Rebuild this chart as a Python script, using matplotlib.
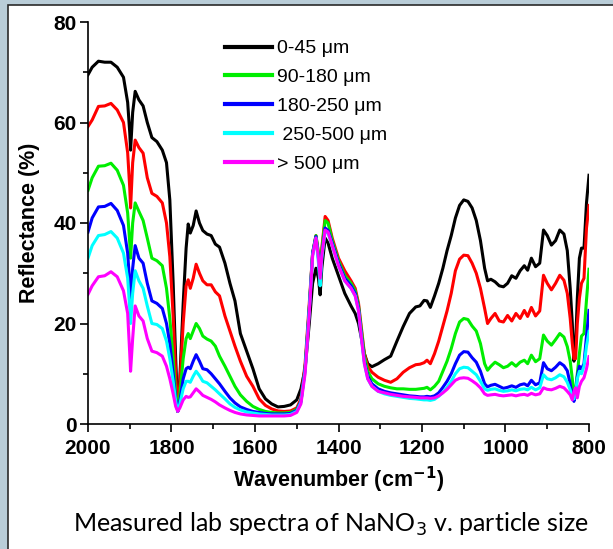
import matplotlib
matplotlib.use("Agg")
import matplotlib.pyplot as plt
from matplotlib.patches import Rectangle
from matplotlib.ticker import MultipleLocator

wavenumber = [2000, 1990, 1975, 1960, 1945, 1930, 1915, 1905, 1900, 1898, 1893, 1887, 1878, 1868, 1858,
              1847, 1835, 1822, 1812, 1804, 1796, 1790, 1785, 1780, 1772, 1765, 1760, 1755, 1748, 1741,
              1733, 1725, 1715, 1705, 1695, 1685, 1672, 1660, 1648, 1635, 1620, 1605, 1590, 1575, 1560,
              1545, 1530, 1515, 1500, 1490, 1480, 1470, 1462, 1454, 1448, 1444, 1440, 1432, 1425, 1415,
              1400, 1385, 1370, 1360, 1352, 1345, 1338, 1330, 1320, 1305, 1290, 1275, 1260, 1245, 1230,
              1215, 1205, 1195, 1188, 1180, 1170, 1160, 1150, 1140, 1130, 1120, 1110, 1100, 1090, 1080,
              1070, 1060, 1050, 1043, 1035, 1025, 1015, 1005, 995, 985, 975, 965, 955, 947, 938,
              928, 918, 909, 900, 890, 880, 870, 860, 852, 845, 840, 836, 832, 828, 823,
              818, 812, 806, 800]

r_0_45 = [69.5, 71, 72.2, 72.0, 72.0, 71, 69, 64, 58, 54.5, 62, 66.2, 64.5, 63.3, 60,
          57, 56.2, 54.5, 52, 44.6, 28, 13, 2.5, 9, 24, 35, 39.8, 38, 39.5, 42.4,
          40, 38.5, 37.8, 37.5, 35.8, 35.2, 32, 28, 24.5, 18, 14.5, 11, 7, 5, 4,
          3.4, 3.5, 3.8, 4.8, 7, 11, 20, 28, 31, 29, 25.7, 31, 37, 36, 33,
          29.5, 26, 23.5, 22, 20, 17, 14, 12, 11.4, 12, 12.8, 13.5, 16.5, 19.4, 22,
          23.3, 23.5, 24.6, 24.5, 23.2, 25.5, 28, 31, 34.5, 37.5, 41, 43.5, 44.6, 44.3, 43,
          40.5, 36.5, 31, 28.5, 28.8, 28.3, 27.5, 27.3, 28, 29.5, 29, 30.5, 31.5, 30.6, 33,
          31.3, 32, 38.6, 37.5, 35.6, 36.5, 38.6, 37.8, 34.5, 27, 20, 12.5, 16, 25, 33,
          35, 35, 44, 49.5]

r_45_90 = [59.2, 60.5, 63.2, 63.3, 63.8, 62.5, 60, 54, 47, 43, 52, 56.5, 55, 53.9, 49,
           45.9, 45.3, 44, 40, 33.3, 21.4, 10, 2.5, 8, 20, 27.5, 28.7, 27, 29, 31.8,
           30, 28.5, 27.7, 27.7, 26.3, 25.5, 21.5, 18.5, 15.5, 12.5, 9.5, 7.5, 5, 3.7, 3,
           2.6, 2.5, 2.6, 3.2, 5, 12, 24, 34, 37.5, 34, 29, 35, 41.3, 40.5, 37,
           33, 30.5, 28.5, 27, 24, 19, 14, 11.5, 10.3, 9.3, 8.7, 8.3, 9, 10.3, 11.2,
           11.8, 11.9, 12.2, 12.7, 12, 14, 16.5, 19.5, 22.5, 26, 30.5, 32.8, 33.6, 33.5, 32,
           30, 27, 23, 20, 21, 22, 20.5, 20.3, 21.6, 20.5, 22, 21, 22.6, 21.4, 23.2,
           21.5, 22.5, 29.6, 28, 26.7, 28, 29.6, 28.6, 26, 21, 16, 13, 13, 20, 25,
           28, 29, 39, 43.5]

r_90_180 = [46.5, 49, 51.3, 51.4, 51.9, 50.5, 47.5, 42, 36, 33, 40, 44, 42.3, 40.5, 37,
            33, 32.5, 31.5, 27, 21, 13, 6, 2.5, 6, 13, 17, 18, 17, 18.5, 20,
            19, 17.5, 16.9, 16.5, 15.5, 13.5, 11.5, 9.5, 7.5, 5.8, 4.5, 3.5, 2.9, 2.5, 2.3,
            2.2, 2.2, 2.3, 2.9, 4.5, 11, 23, 34, 37.5, 34, 29, 34.5, 40.5, 40, 36.5,
            32.5, 29.5, 28, 26.5, 23.5, 18.5, 13.5, 10.5, 9, 8, 7.5, 7.2, 7, 7, 6.9,
            6.9, 7, 7.1, 7.3, 6.8, 7.5, 8.5, 10.5, 12.5, 15, 18, 20.3, 21, 20.8, 19.5,
            18.5, 16, 12, 10.7, 11.5, 12.3, 11.8, 11.2, 11.5, 12.2, 11.5, 12.3, 12.7, 12, 13.7,
            12.4, 13, 17.7, 16.5, 15.7, 16.8, 18, 17.3, 15.4, 12.5, 9, 5, 7, 10, 14,
            17.5, 18, 24.7, 30.8]

r_180_250 = [38.2, 41, 43.2, 43.3, 43.9, 42.5, 39.5, 34, 28, 25, 31, 35.5, 33, 32, 28,
             24.5, 24, 23, 20, 16, 10, 5, 2.5, 4.5, 9, 11, 11.3, 11, 12.5, 13.8,
             12.5, 11, 10.8, 10, 9, 8, 6.5, 5.2, 4.2, 3.4, 2.9, 2.5, 2.3, 2.1, 2,
             2, 2, 2.1, 2.7, 4.5, 11, 23, 34, 37.3, 33, 28.5, 33.5, 39, 38.5, 36,
             32, 29, 27.5, 26, 23, 17.5, 12.5, 9.5, 8, 7, 6.5, 6.2, 6, 5.8, 5.6,
             5.5, 5.4, 5.4, 5.5, 5.4, 5.6, 6.2, 7.3, 8.5, 10, 12, 13.7, 14.4, 14.3, 13.2,
             12.3, 10.5, 8, 7.4, 7.7, 7.9, 7.5, 7.1, 7.3, 7.6, 7.3, 7.8, 8, 7.6, 8.7,
             7.8, 8.2, 12.2, 11, 10.6, 11.3, 12.2, 11.6, 10.6, 8, 5.5, 4.5, 6, 9.5, 11.5,
             11, 12, 17.5, 22.6]

r_250_500 = [33, 35.5, 37.5, 37.7, 38.3, 37, 34, 29, 23, 20, 26, 30.5, 28.5, 27, 23.5,
             20, 19.8, 19, 16.5, 13, 8.5, 4.5, 2.5, 4, 7, 8.5, 8.5, 8.3, 9.5, 10.5,
             9.6, 8.5, 8.2, 7.5, 6.8, 6, 5, 4, 3.3, 2.8, 2.4, 2.2, 2, 1.9, 1.8,
             1.8, 1.8, 1.9, 2.5, 4.3, 10.5, 22.5, 33.5, 37, 32, 27.5, 33, 38.3, 38, 35.5,
             31.5, 28.5, 27, 25.5, 22.5, 17, 12, 9, 7.5, 6.5, 6, 5.7, 5.5, 5.3, 5.1,
             5, 4.9, 4.8, 4.8, 4.7, 4.9, 5.5, 6.3, 7.3, 8.5, 10, 11, 11.3, 11.2, 10.5,
             9.8, 8.5, 7, 6.7, 6.9, 7, 6.7, 6.5, 6.6, 6.8, 6.6, 6.9, 7, 6.8, 7.3,
             6.8, 7.2, 9.8, 9, 8.8, 9.2, 9.8, 9.4, 8.3, 6.8, 5, 5, 6.5, 9, 10.5,
             10, 11.5, 15.5, 18.4]

r_gt_500 = [25.8, 27.5, 29.3, 29.5, 30.3, 29.3, 26.5, 22, 14, 10.5, 17, 23.5, 21.5, 20.5, 17,
            14.5, 14.2, 13.5, 11.5, 9, 6, 3.5, 2.5, 3.2, 4.8, 5.5, 5.3, 5.4, 6.2, 7,
            6.4, 5.7, 5.3, 4.9, 4.4, 3.8, 3.2, 2.7, 2.3, 2.0, 1.8, 1.7, 1.6, 1.6, 1.6,
            1.6, 1.6, 1.7, 2.3, 4.0, 10, 22, 33.5, 37, 33, 29, 33.5, 38.6, 38.2, 35.5,
            31.5, 28.5, 27, 25.5, 22.5, 17, 12, 9, 7.5, 6.5, 6.2, 5.9, 5.7, 5.5, 5.4,
            5.3, 5.2, 5.2, 5.2, 5.1, 5.2, 5.6, 6.2, 6.9, 7.8, 8.7, 9.1, 9.2, 9.1, 8.6,
            8, 7.2, 6, 5.7, 5.8, 5.9, 5.7, 5.6, 5.7, 5.8, 5.6, 5.8, 5.9, 5.7, 6.1,
            5.8, 6, 7.2, 6.9, 6.8, 7.1, 7.5, 7.2, 6.5, 5.8, 4.8, 6.5, 7.2, 5.2, 7.5,
            8.5, 9.2, 11, 13.4]

labels = ["0-45 \u03bcm", None, "90-180 \u03bcm", "180-250 \u03bcm", " 250-500 \u03bcm", "> 500 \u03bcm"]
series = [r_0_45, r_45_90, r_90_180, r_180_250, r_250_500, r_gt_500]
colors = ["#000000", "#ff0000", "#00ee00", "#0000ff", "#00ffff", "#ff00ff"]

x_ticks = [2000, 1800, 1600, 1400, 1200, 1000, 800]
y_ticks = [0, 20, 40, 60, 80]

plt.rcParams['font.family'] = ['Liberation Sans', 'DejaVu Sans']

fig = plt.figure(figsize=(6.13, 5.49), dpi=100)
fig.patch.set_facecolor("#b9cdd8")
panel = Rectangle((8 / 613, -0.05), 1.0, 1 - 5 / 549 + 0.05, transform=fig.transFigure,
                  facecolor="white", edgecolor="#2a2a2a", linewidth=1.2, zorder=-10)
fig.add_artist(panel)

ax = fig.add_axes([88 / 613, 1 - 424 / 549, (589 - 88) / 613, (424 - 22) / 549])
ax.set_facecolor("none")
ax.set_zorder(5)

handles = []
for i in range(len(series)):
    ln, = ax.plot(wavenumber, series[i], color=colors[i], lw=2.2, solid_joinstyle="round",
                  label=labels[i] if labels[i] else "_nolegend_")
    if labels[i]:
        handles.append(ln)

ax.set_xlim(2000, 800)
ax.set_ylim(0, 80)
ax.set_xticks(x_ticks)
ax.set_yticks(y_ticks)
ax.xaxis.set_minor_locator(MultipleLocator(100))
ax.yaxis.set_minor_locator(MultipleLocator(10))
ax.tick_params(which="major", direction="out", length=6, width=1.2, labelsize=15, pad=5)
ax.tick_params(axis="y", which="major", pad=2)
ax.tick_params(which="minor", direction="out", length=3.5, width=1.2)
for lab in ax.get_xticklabels() + ax.get_yticklabels():
    lab.set_fontweight("bold")
ax.spines["top"].set_visible(False)
ax.spines["right"].set_visible(False)
ax.spines["left"].set_linewidth(1.2)
ax.spines["bottom"].set_linewidth(1.2)

ax.set_xlabel("Wavenumber (cm$^{\\mathbf{-1}}$)", fontsize=15.5, fontweight="bold", labelpad=5)
ax.set_ylabel("Reflectance (%)", fontsize=15.5, fontweight="bold", labelpad=10)

leg = ax.legend(handles=handles, loc="upper left", bbox_to_anchor=(0.25, 0.985), frameon=False,
                fontsize=14, handlelength=2.4, handletextpad=0.3, labelspacing=0.58,
                borderaxespad=0.2)
for h in leg.legend_handles:
    h.set_linewidth(3)

fig.text(331 / 613, 1 - 524 / 549, "Measured lab spectra of NaNO$_3$ v. particle size",
         ha="center", va="center", fontsize=18, family=["Lato", "DejaVu Sans"])

fig.savefig("out.png", dpi=100, facecolor=fig.get_facecolor())
